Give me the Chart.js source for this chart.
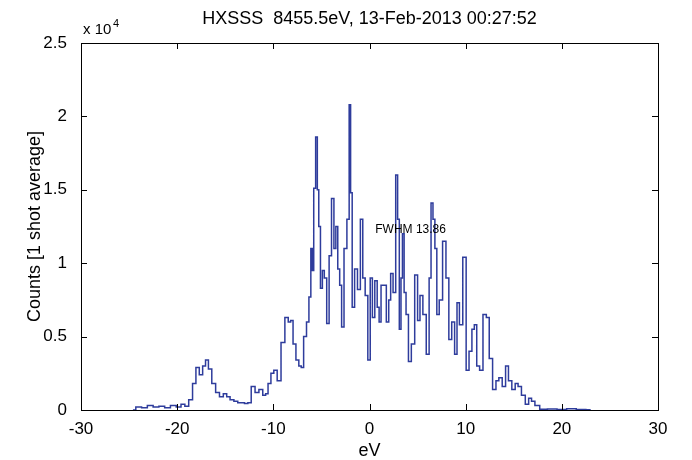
<!DOCTYPE html>
<html><head><meta charset="utf-8">
<script src="https://cdn.jsdelivr.net/npm/chart.js@4"></script>
<style>body{margin:0;background:#fff}#wrap{width:692px;height:460px}</style>
</head><body><div id="wrap"><canvas id="c"></canvas></div>
<script>
// spectrum (eV, counts)
const energy = [-24.6,-24,-23.4,-22.8,-22.2,-21.6,-21,-20.4,-19.8,-19.4,-19,-18.6,-18.2,-17.9,-17.5,-17.2,-16.9,-16.6,-16.2,-15.8,-15.4,-15,-14.7,-14.3,-13.9,-13.5,-13.2,-12.8,-12.5,-12.1,-11.7,-11.3,-10.9,-10.7,-10.4,-10.1,-9.8,-9.4,-9.0,-8.6,-8.3,-8.1,-7.8,-7.5,-7.2,-7.0,-6.7,-6.4,-6.2,-6.0,-5.9,-5.7,-5.5,-5.35,-5.2,-5.0,-4.8,-4.6,-4.3,-4.1,-3.8,-3.6,-3.4,-3.2,-3.0,-2.8,-2.5,-2.2,-2.03,-1.9,-1.7,-1.4,-1.1,-0.8,-0.6,-0.3,-0.05,0.2,0.4,0.7,0.9,1.1,1.3,1.6,1.9,2.1,2.3,2.6,2.85,3.0,3.2,3.35,3.5,3.7,3.9,4.2,4.5,4.9,5.1,5.4,5.7,6.1,6.3,6.5,6.7,6.9,7.1,7.4,7.8,8.1,8.4,8.7,9.0,9.2,9.5,9.9,10.2,10.5,10.8,11.0,11.3,11.6,12.0,12.3,12.6,13.0,13.3,13.6,14.0,14.3,14.6,15.0,15.3,15.6,16.0,16.4,16.7,17.0,17.4,18.0,19,20,21,22,23,24];
const counts = [0,200,150,300,200,250,150,300,200,400,250,700,1800,2900,2400,3000,3400,2800,1800,1200,900,1100,900,700,600,500,500,450,500,1600,1200,1400,1000,1100,1800,2500,2700,2000,4600,6300,6000,6100,4500,3400,3000,2900,5000,6000,7700,11000,9500,15100,18600,15000,12500,8300,9500,9000,5900,10500,14400,11000,12500,9600,8500,5650,11000,13000,20800,14800,7000,9600,8200,13000,9000,7800,3400,9000,6300,8800,7000,6000,8500,8500,6000,7500,9300,8000,16000,13000,5500,9000,12000,8000,6500,3300,4500,9200,6100,7800,6500,3800,9000,14100,13000,11000,6500,7500,11500,9000,4800,6000,3800,7300,5800,10400,2700,4000,5500,5800,3000,2700,6500,6300,3500,1400,2000,2200,1600,3000,2000,1400,1800,1600,1000,400,800,600,300,50,60,40,80,30,20];
const xTicks = [-30,-20,-10,0,10,20,30];
const yTicks = [0,5000,10000,15000,20000,25000];
const titleText = 'HXSSS  8455.5eV, 13-Feb-2013 00:27:52';
const noteText = 'FWHM 13.86';
const noteAt = [0.6, 12300];

const pts = energy.map((e, i) => ({x: e, y: counts[i]}));
const F = '"Liberation Sans", Arial, sans-serif';

const frame = {
  id: 'frame',
  afterDraw(ch) {
    const c = ch.ctx, a = ch.chartArea, xs = ch.scales.x, ys = ch.scales.y;
    c.save();
    c.strokeStyle = '#000'; c.lineWidth = 1;
    c.strokeRect(a.left + 0.5, a.top + 0.5, a.right - a.left, a.bottom - a.top);
    c.beginPath();
    xTicks.forEach(t => { const p = Math.round(xs.getPixelForValue(t)) + 0.5;
      c.moveTo(p, a.bottom); c.lineTo(p, a.bottom - 6); c.moveTo(p, a.top); c.lineTo(p, a.top + 6); });
    yTicks.forEach(t => { const p = Math.round(ys.getPixelForValue(t)) + 0.5;
      c.moveTo(a.left, p); c.lineTo(a.left + 6, p); c.moveTo(a.right, p); c.lineTo(a.right - 6, p); });
    c.stroke();
    c.fillStyle = '#000';
    c.font = '18px ' + F; c.textAlign = 'center'; c.textBaseline = 'alphabetic';
    c.fillText(titleText, (a.left + a.right) / 2, 24);
    c.fillText('eV', (a.left + a.right) / 2, 456);
    c.textAlign = 'left'; c.font = '15px ' + F;
    c.fillText('x 10', 83, 34);
    c.font = '11px ' + F; c.fillText('4', 113, 27);
    c.font = '12px ' + F; c.textBaseline = 'middle';
    c.fillText(noteText, xs.getPixelForValue(noteAt[0]), ys.getPixelForValue(noteAt[1]));
    c.translate(40, (a.top + a.bottom) / 2); c.rotate(-Math.PI / 2);
    c.font = '18px ' + F; c.textAlign = 'center'; c.textBaseline = 'alphabetic';
    c.fillText('Counts [1 shot average]', 0, 0);
    c.restore();
  }
};

new Chart(document.getElementById('c'), {
  type: 'line',
  data: { datasets: [{ data: pts, borderColor: '#2e3c9c', borderWidth: 1.5, pointRadius: 0, stepped: 'middle', fill: false }] },
  options: {
    responsive: true, maintainAspectRatio: false, animation: false,
    layout: { padding: { top: 43, right: 34, left: 0, bottom: 0 } },
    plugins: { legend: { display: false }, tooltip: { enabled: false } },
    scales: {
      x: { type: 'linear', min: -30, max: 30,
        afterBuildTicks: s => { s.ticks = xTicks.map(v => ({value: v})); },
        afterFit: s => { s.height = 50; },
        grid: { display: false }, border: { display: false },
        ticks: { color: '#000', font: { size: 17, family: F }, padding: 1, maxRotation: 0 } },
      y: { min: 0, max: 25000,
        afterBuildTicks: s => { s.ticks = yTicks.map(v => ({value: v})); },
        afterFit: s => { s.width = 81; },
        grid: { display: false }, border: { display: false },
        ticks: { color: '#000', font: { size: 17, family: F }, padding: 6,
          callback: v => String(v / 10000) } }
    }
  },
  plugins: [frame]
});
</script></body></html>
